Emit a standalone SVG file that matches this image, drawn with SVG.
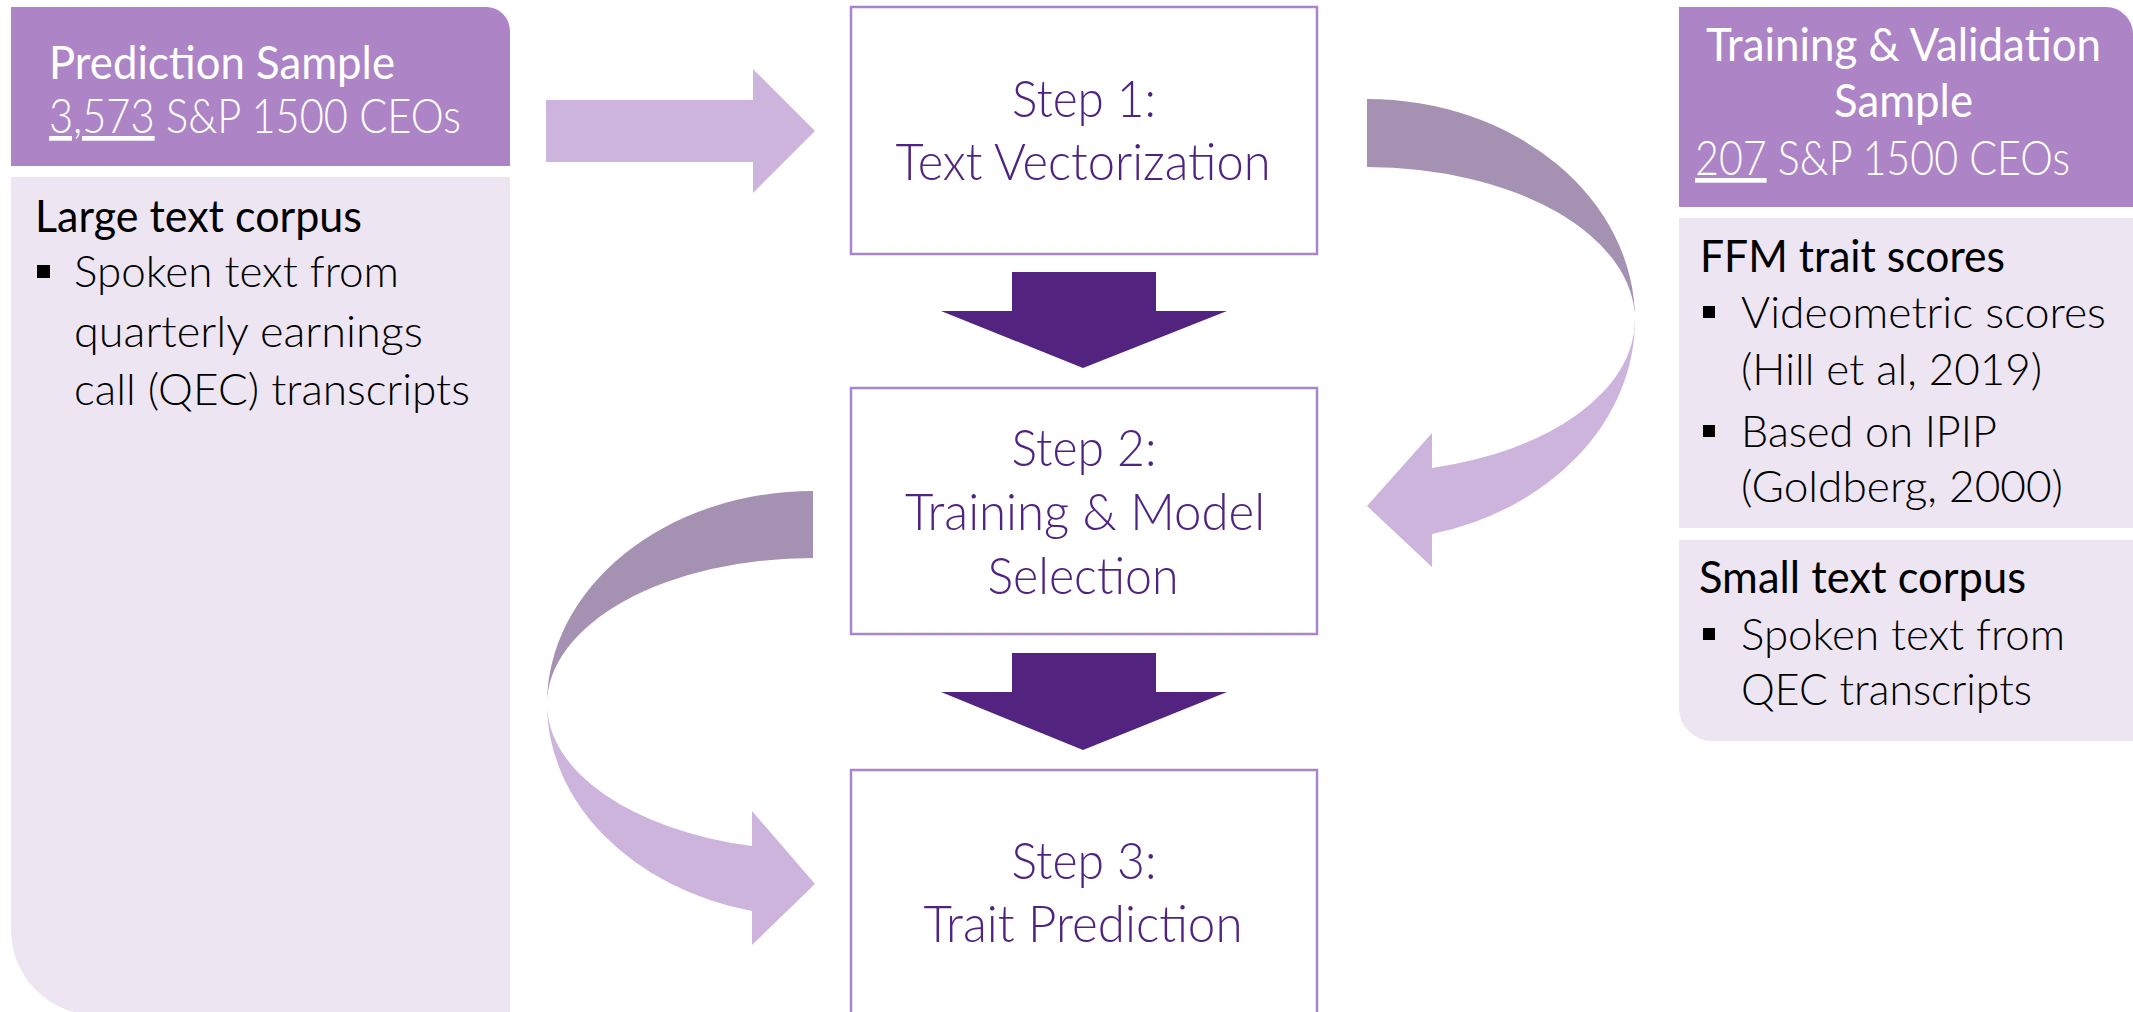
<svg xmlns="http://www.w3.org/2000/svg" width="2133" height="1012" viewBox="0 0 2133 1012">
<style>
.hdr{fill:#AD85C6}
.bdy{fill:#EDE5F2}
.step{fill:#FFFFFF;stroke:#A984CB;stroke-width:2.5}
.t{font-family:Lato,"Open Sans","Liberation Sans",sans-serif}
.stxt{font-weight:300;font-size:51px;fill:#4F2480;text-anchor:middle}
.htxt{font-size:47px;fill:#FFFFFF}
.hl{font-weight:300}
.btxt{font-size:44px;fill:#000000}
.bl{font-weight:300}
.bul{fill:#000000}
.la{fill:#CDB4DC}
.db{fill:#A591B2}
.da{fill:#52247F}
</style>
<rect width="2133" height="1012" fill="#FFFFFF"/>

<g id="prediction-sample">
  <path class="hdr" d="M11,7 H486 A24,24 0 0 1 510,31 V166 H11 Z"/>
  <path class="bdy" d="M11,177 H510 V1015 H96 A85,85 0 0 1 11,930 Z"/>
  <text class="t htxt" x="49" y="79" textLength="346" lengthAdjust="spacingAndGlyphs">Prediction Sample</text>
  <text class="t htxt hl" x="49" y="133" textLength="412" lengthAdjust="spacingAndGlyphs"><tspan text-decoration="underline">3,573</tspan> S&amp;P 1500 CEOs</text>
  <text class="t btxt" x="35" y="232" textLength="327" lengthAdjust="spacingAndGlyphs">Large text corpus</text>
  <rect class="bul" x="37" y="265" width="13" height="13"/>
  <text class="t btxt bl" x="74" y="287" textLength="325" lengthAdjust="spacingAndGlyphs">Spoken text from</text>
  <text class="t btxt bl" x="74" y="347" textLength="349" lengthAdjust="spacingAndGlyphs">quarterly earnings</text>
  <text class="t btxt bl" x="74" y="405" textLength="396" lengthAdjust="spacingAndGlyphs">call (QEC) transcripts</text>
</g>

<g id="training-validation-sample">
  <path class="hdr" d="M1679,7 H2106 A27,27 0 0 1 2133,34 V207 H1679 Z"/>
  <rect class="bdy" x="1679" y="218" width="460" height="310"/>
  <path class="bdy" d="M1679,540 H2140 V741 H1712 A33,33 0 0 1 1679,708 Z"/>
  <text class="t htxt" x="1706" y="61" textLength="395" lengthAdjust="spacingAndGlyphs">Training &amp; Validation</text>
  <text class="t htxt" x="1834" y="117" textLength="139" lengthAdjust="spacingAndGlyphs">Sample</text>
  <text class="t htxt hl" x="1695" y="175" textLength="375" lengthAdjust="spacingAndGlyphs"><tspan text-decoration="underline">207</tspan> S&amp;P 1500 CEOs</text>
  <text class="t btxt" x="1700" y="272" textLength="305" lengthAdjust="spacingAndGlyphs">FFM trait scores</text>
  <rect class="bul" x="1703" y="306" width="12" height="12"/>
  <text class="t btxt bl" x="1741" y="328" textLength="365" lengthAdjust="spacingAndGlyphs">Videometric scores</text>
  <text class="t btxt bl" x="1741" y="385" textLength="301" lengthAdjust="spacingAndGlyphs">(Hill et al, 2019)</text>
  <rect class="bul" x="1703" y="425" width="12" height="12"/>
  <text class="t btxt bl" x="1741" y="447" textLength="256" lengthAdjust="spacingAndGlyphs">Based on IPIP</text>
  <text class="t btxt bl" x="1741" y="502" textLength="322" lengthAdjust="spacingAndGlyphs">(Goldberg, 2000)</text>
  <text class="t btxt" x="1699" y="593" textLength="327" lengthAdjust="spacingAndGlyphs">Small text corpus</text>
  <rect class="bul" x="1703" y="628" width="12" height="12"/>
  <text class="t btxt bl" x="1741" y="650" textLength="324" lengthAdjust="spacingAndGlyphs">Spoken text from</text>
  <text class="t btxt bl" x="1741" y="705" textLength="291" lengthAdjust="spacingAndGlyphs">QEC transcripts</text>
</g>

<g id="step1">
  <rect class="step" x="851" y="7" width="466" height="247"/>
  <text class="t stxt" x="1084" y="117" textLength="144" lengthAdjust="spacingAndGlyphs">Step 1:</text>
  <text class="t stxt" x="1083" y="180" textLength="375" lengthAdjust="spacingAndGlyphs">Text Vectorization</text>
</g>

<g id="step2">
  <rect class="step" x="851" y="388" width="466" height="246"/>
  <text class="t stxt" x="1084" y="466" textLength="145" lengthAdjust="spacingAndGlyphs">Step 2:</text>
  <text class="t stxt" x="1085" y="530" textLength="360" lengthAdjust="spacingAndGlyphs">Training &amp; Model</text>
  <text class="t stxt" x="1083" y="594" textLength="191" lengthAdjust="spacingAndGlyphs">Selection</text>
</g>

<g id="step3">
  <rect class="step" x="851" y="770" width="466" height="260"/>
  <text class="t stxt" x="1084" y="879" textLength="145" lengthAdjust="spacingAndGlyphs">Step 3:</text>
  <text class="t stxt" x="1083" y="942" textLength="319" lengthAdjust="spacingAndGlyphs">Trait Prediction</text>
</g>

<g id="connectors">
  <polygon class="la" points="546,100 753,100 753,69 815,131 753,193 753,162 546,162"/>
  <polygon class="da" points="1012,272 1156,272 1156,311 1227,311 1083,368 941,311 1012,311"/>
  <polygon class="da" points="1012,653 1156,653 1156,692 1227,692 1083,750 941,692 1012,692"/>
  <path class="db" d="M1367,99 A268,221 0 0 1 1635,320 A268,153 0 0 0 1367,167 Z"/>
  <path class="la" d="M1635,320 A268,221 0 0 1 1432,534 L1432,567 L1367,506 L1432,433 L1432,468 A268,153 0 0 0 1635,320 Z"/>
  <path class="db" d="M813,491 A266,213 0 0 0 547,704 A266,146 0 0 1 813,558 Z"/>
  <path class="la" d="M547,704 A266,213 0 0 0 752,911 L752,945 L815,884 L752,811 L752,846 A266,146 0 0 1 547,704 Z"/>
</g>
</svg>
